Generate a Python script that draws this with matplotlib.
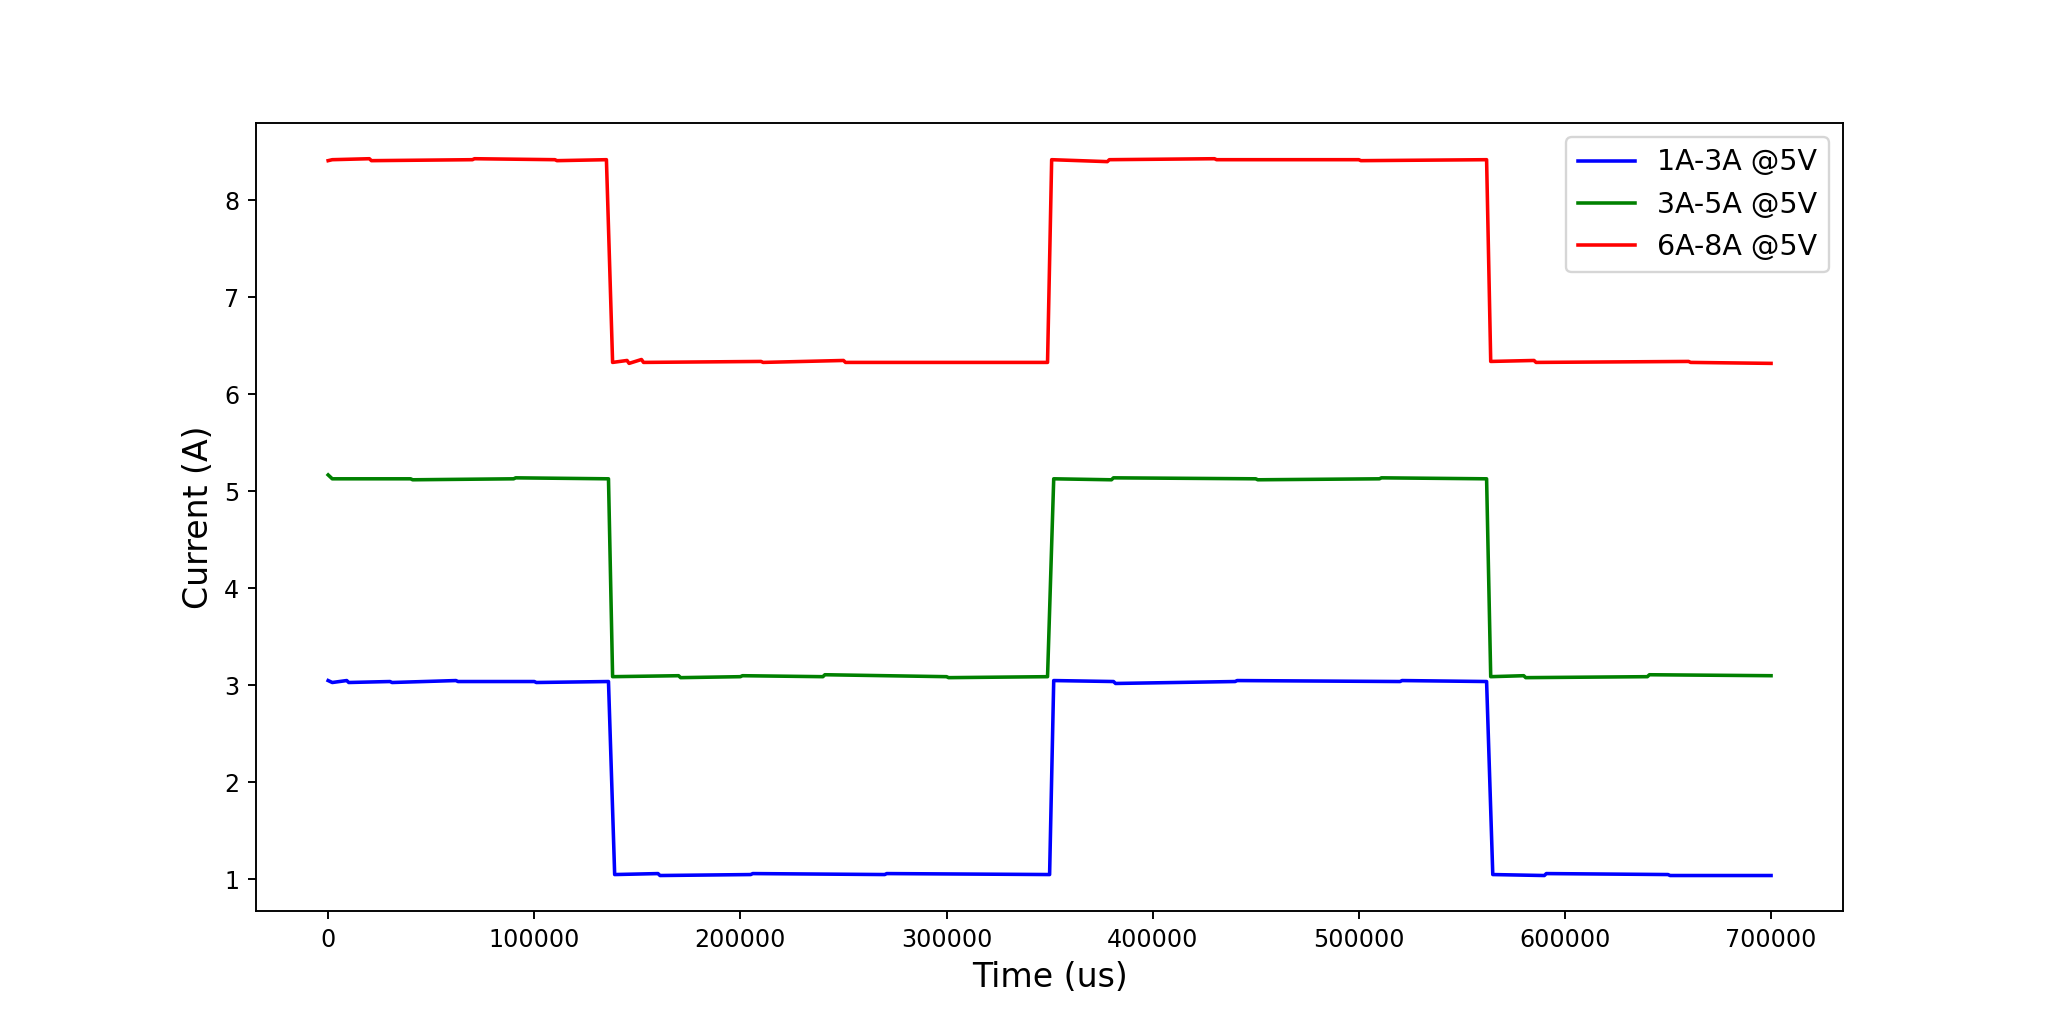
import numpy as np
import matplotlib
matplotlib.use("Agg")
import matplotlib.pyplot as plt


#------------------------------------------------------------------------
#!Datos (tiempo en us, corriente en A)

t_1a3a = [0, 2000, 9000, 10000, 30000, 31000, 62000, 63000, 100000, 101000,
          136000, 139000, 160000, 161000, 205000, 206000, 270000, 271000,
          350000, 352000, 381000, 382000, 440000, 441000, 520000, 521000,
          562000, 565000, 590000, 591000, 650000, 651000, 700000]
i_1a3a = [3.05, 3.03, 3.05, 3.03, 3.04, 3.03, 3.05, 3.04, 3.04, 3.03,
          3.04, 1.05, 1.06, 1.04, 1.05, 1.06, 1.05, 1.06,
          1.05, 3.05, 3.04, 3.02, 3.04, 3.05, 3.04, 3.05,
          3.04, 1.05, 1.04, 1.06, 1.05, 1.04, 1.04]

t_3a5a = [0, 2000, 40000, 41000, 90000, 91000,
          136000, 138000, 170000, 171000, 200000, 201000, 240000, 241000, 300000, 301000,
          349000, 352000, 380000, 381000, 450000, 451000, 510000, 511000,
          562000, 564000, 580000, 581000, 640000, 641000, 700000]
i_3a5a = [5.17, 5.13, 5.13, 5.12, 5.13, 5.14,
          5.13, 3.09, 3.10, 3.08, 3.09, 3.10, 3.09, 3.11, 3.09, 3.08,
          3.09, 5.13, 5.12, 5.14, 5.13, 5.12, 5.13, 5.14,
          5.13, 3.09, 3.10, 3.08, 3.09, 3.11, 3.10]

t_6a8a = [0, 2000, 20000, 21000, 70000, 71000, 110000, 111000,
          135000, 138000, 145000, 146000, 152000, 153000, 210000, 211000, 250000, 251000,
          349000, 351000, 378000, 379000, 430000, 431000, 500000, 501000,
          562000, 564000, 585000, 586000, 660000, 661000, 700000]
i_6a8a = [8.41, 8.42, 8.43, 8.41, 8.42, 8.43, 8.42, 8.41,
          8.42, 6.33, 6.35, 6.32, 6.36, 6.33, 6.34, 6.33, 6.35, 6.33,
          6.33, 8.42, 8.40, 8.42, 8.43, 8.42, 8.42, 8.41,
          8.42, 6.34, 6.35, 6.33, 6.34, 6.33, 6.32]

etiquetas = ["1A-3A @5V", "3A-5A @5V", "6A-8A @5V"]
colores = ["blue", "green", "red"]


#------------------------------------------------------------------------
#!Grafica

fig, ax = plt.subplots(figsize=(12, 6), dpi=2048 / 12)
ax.plot(t_1a3a, i_1a3a, color=colores[0], label=etiquetas[0])
ax.plot(t_3a5a, i_3a5a, color=colores[1], label=etiquetas[1])
ax.plot(t_6a8a, i_6a8a, color=colores[2], label=etiquetas[2])
ax.set_xlabel("Time (us)", fontsize=14)
ax.set_ylabel("Current (A)", fontsize=14)
ax.set_xticks([0, 100000, 200000, 300000, 400000, 500000, 600000, 700000])
ax.ticklabel_format(style="plain", axis="x")
ax.legend(loc="upper right", fontsize=12)
plt.savefig("out.png")
